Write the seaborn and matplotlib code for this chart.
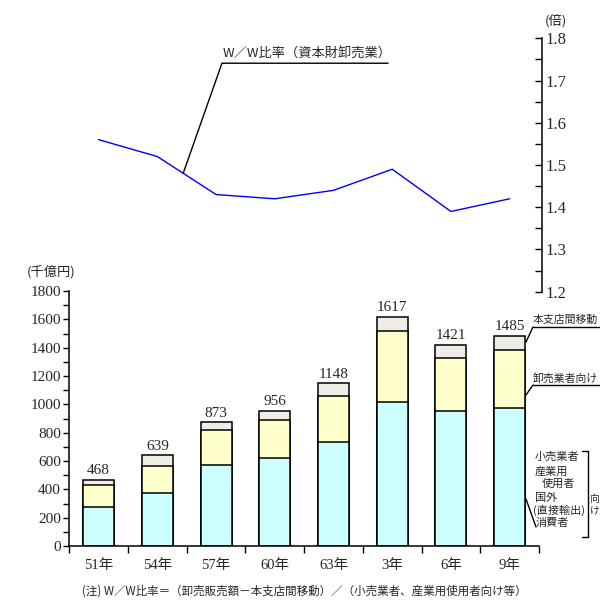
import numpy as np
import pandas as pd
import seaborn as sns
import matplotlib.pyplot as plt
from matplotlib.lines import Line2D
from matplotlib.ticker import MultipleLocator, FixedLocator

years = ["51年", "54年", "57年", "60年", "63年", "3年", "6年", "9年"]
consumer = [273, 372, 570, 619, 732, 1014, 951, 972]
wholesale = [155, 191, 246, 269, 325, 502, 374, 410]
branch = [40, 76, 57, 68, 91, 101, 96, 103]
totals = [468, 639, 873, 956, 1148, 1617, 1421, 1485]
ratio = [1.56, 1.52, 1.43, 1.42, 1.44, 1.49, 1.39, 1.42]

sns.set_theme(style="white")
plt.rcParams["font.family"] = ["Liberation Serif", "Noto Sans CJK JP"]
JP = ["Noto Sans CJK JP", "DejaVu Sans"]

df = pd.DataFrame({"year": years, "consumer": consumer,
                   "wholesale": wholesale, "branch": branch})
df["lvl2"] = df["consumer"] + df["wholesale"]
df["lvl3"] = df["lvl2"] + df["branch"]

fig = plt.figure(figsize=(6, 6), dpi=100)
W, H = 600.0, 600.0


def fxy(px, py):
    return px / W, 1 - py / H


left, right = 69.3 / W, 539.0 / W
ax = fig.add_axes([left, 54 / H, right - left, (546 - 291) / H])
ax_top = fig.add_axes([left, (600 - 291.7) / H, right - left, (291.7 - 38.3) / H])

# stacked bars {{
kw = dict(edgecolor="black", linewidth=1.1, width=0.53, saturation=1, ax=ax)
sns.barplot(data=df, x="year", y="lvl3", color="#eeeee6", **kw)
sns.barplot(data=df, x="year", y="lvl2", color="#ffffcc", **kw)
sns.barplot(data=df, x="year", y="consumer", color="#ccffff", **kw)
for i, t in enumerate(totals):
    ax.annotate(str(t), (i, t), xytext=(0, 2), textcoords="offset points",
                ha="center", va="bottom", fontsize=11)
ax.set_xlim(-0.5, len(years) - 0.5)
ax.set_ylim(0, 1800)
ax.set_xlabel("")
ax.set_ylabel("")
ax.yaxis.set_major_locator(MultipleLocator(200))
ax.yaxis.set_minor_locator(MultipleLocator(100))
ax.xaxis.set_minor_locator(FixedLocator(np.arange(-0.5, len(years), 1.0)))
ax.tick_params(axis="y", which="both", direction="out", length=4,
               width=1, color="black", left=True, labelsize=11, pad=2)
ax.tick_params(axis="x", which="major", length=0, labelsize=10.5, pad=9)
ax.tick_params(axis="x", which="minor", direction="out", length=5,
               width=1, color="black", bottom=True)
for s in ["top", "right"]:
    ax.spines[s].set_visible(False)
for s in ["left", "bottom"]:
    ax.spines[s].set_color("black")
    ax.spines[s].set_linewidth(1.1)
# }}

# W/W ratio line {{
xs = np.arange(len(years))
sns.lineplot(x=xs, y=ratio, ax=ax_top, color="#0000ff", linewidth=1)
ax_top.set_xlim(-0.5, len(years) - 0.5)
ax_top.set_ylim(1.2, 1.8)
ax_top.yaxis.tick_right()
ax_top.yaxis.set_major_locator(MultipleLocator(0.1))
ax_top.yaxis.set_minor_locator(MultipleLocator(0.05))
ax_top.yaxis.set_major_formatter(lambda v, p: f"{v:.1f}")
ax_top.tick_params(axis="y", which="both", direction="in", length=5,
                   width=1, color="black", right=True, labelsize=12, pad=3)
ax_top.set_xticks([])
for s in ["top", "left", "bottom"]:
    ax_top.spines[s].set_visible(False)
ax_top.spines["right"].set_color("black")
ax_top.spines["right"].set_linewidth(1.1)
ax_top.spines["right"].set_position(("outward", 2))
ax_top.patch.set_alpha(0)

tip_x = 1.44
tip_y = np.interp(tip_x, xs, ratio)
ax_top.plot([tip_x, 2.1, 4.93], [tip_y, 1.741, 1.741], color="black", lw=1)
ax_top.text(2.12, 1.748, "W／W比率（資本財卸売業）", family=JP, fontsize=9.5,
            ha="left", va="bottom")
# }}

# unit labels {{
fig.text(*fxy(51, 272), "(千億円)", family=JP, fontsize=9.5, ha="center", va="center")
fig.text(*fxy(556, 21), "(倍)", family=JP, fontsize=9.5, ha="center", va="center")
# }}

# right side legend labels {{
def seg(p0, p1):
    x0, y0 = fxy(*p0)
    x1, y1 = fxy(*p1)
    fig.add_artist(Line2D([x0, x1], [y0, y1], color="black", lw=1))


seg((526, 342), (533, 327))
seg((533, 327), (600, 327))
fig.text(*fxy(533, 320), "本支店間移動", family=JP, fontsize=7.8, ha="left", va="center")
seg((526, 395), (533, 385))
seg((533, 385), (600, 385))
fig.text(*fxy(533, 378), "卸売業者向け", family=JP, fontsize=7.8, ha="left", va="center")

seg((526, 499), (536, 527))
for txt, px, py in [("小売業者", 535, 457), ("産業用", 535, 472),
                    ("使用者", 542, 484), ("国外", 535, 498),
                    ("(直接輸出)", 533, 510), ("消費者", 536, 523)]:
    fig.text(*fxy(px, py), txt, family=JP, fontsize=8, ha="left", va="center")
seg((582, 451), (588, 451))
seg((588, 451), (588, 537))
seg((582, 537), (588, 537))
fig.text(*fxy(590, 499), "向", family=JP, fontsize=7, ha="left", va="center")
fig.text(*fxy(590, 511), "け", family=JP, fontsize=7, ha="left", va="center")
# }}

fig.text(*fxy(304, 591),
         "(注) W／W比率＝（卸売販売額－本支店間移動）／（小売業者、産業用使用者向け等）",
         family=JP, fontsize=8.3, ha="center", va="center")

fig.savefig("out.png", dpi=100)
